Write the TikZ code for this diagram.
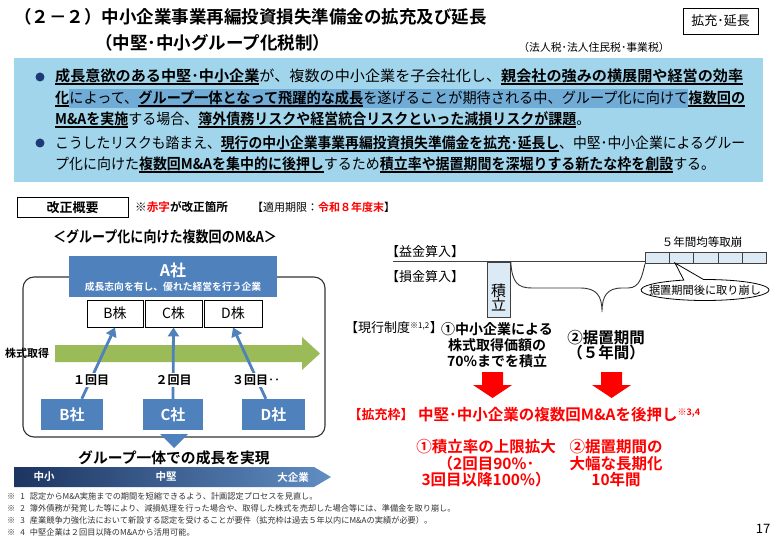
\documentclass[tikz,border=0pt]{standalone}
\usepackage{graphicx}
\usepackage{fontspec}
\setmainfont{Noto Sans CJK JP}[BoldFont={Noto Sans CJK JP Bold}]
\usetikzlibrary{shapes.geometric,shapes.callouts,arrows.meta}
\definecolor{boxblue}{RGB}{160,213,236}
\definecolor{hlblue}{RGB}{112,172,214}
\definecolor{accblue}{RGB}{79,129,189}
\definecolor{grn}{RGB}{155,187,89}
\definecolor{lblue}{RGB}{219,234,245}
\definecolor{navy}{RGB}{28,52,96}
\definecolor{bullc}{RGB}{31,56,120}
\definecolor{redc}{RGB}{255,0,0}
\definecolor{fnc}{RGB}{50,50,50}
\newcommand\fs[1]{\fontsize{#1}{#1}\selectfont}
\newcommand\fitw[2]{\resizebox{#1}{\height}{#2}}
\newsavebox\ubbox
\newcommand\ub[1]{\sbox\ubbox{\bfseries #1}\rlap{\rule[-2.6pt]{\wd\ubbox}{1.4pt}}\usebox\ubbox}
\newsavebox\hlbox
\newcommand\hl[1]{\sbox\hlbox{#1}\rlap{\color{hlblue}\rule[-4pt]{\wd\hlbox}{19pt}}\usebox\hlbox}
\begin{document}
\begin{tikzpicture}[x=1pt,y=-1pt,
  txt/.style={inner sep=0pt, anchor=base west},
  ctxt/.style={inner sep=0pt, anchor=center},
  stockbox/.style={draw=black, line width=0.9pt, minimum width=57pt, minimum height=27pt, inner sep=0pt, font=\fs{14}},
  cobox/.style={fill=accblue, text=white, minimum width=62pt, minimum height=31pt, inner sep=0pt, font=\fs{15}\bfseries},
  acq/.style={draw=accblue, line width=2.8pt, -{Triangle[width=11pt,length=9pt]}},
  roundlbl/.style={fill=white, inner sep=1.5pt, font=\fs{12}\bfseries},
  redarrow/.style={fill=redc},
  fn/.style={txt, font=\fs{8.2}, text=fnc},
  bul/.style={circle, fill=bullc, minimum size=9pt, inner sep=0pt}
]
\useasboundingbox[fill=white] (0,0) rectangle (776,537);

% title
\node[txt] (t1) at (14,24) {\fs{17.5}\bfseries （２－２）中小企業事業再編投資損失準備金の拡充及び延長};
\node[txt] (t2) at (95,50) {\fs{17.5}\bfseries （中堅･中小グループ化税制）};
\node[draw=black, line width=0.8pt, minimum width=75pt, minimum height=26pt, inner sep=0pt, font=\fs{13}] (tag) at (720.5,21) {拡充･延長};
\node[ctxt, font=\fs{10.8}] (tax) at (594,47) {（法人税･法人住民税･事業税）};

% blue summary box
\node[fill=boxblue, minimum width=749pt, minimum height=124pt, inner sep=0pt, anchor=north west] (sumbox) at (14,58) {};
\node[bul] (b1) at (40,77) {};
\node[bul] (b2) at (40,143) {};
\node[txt] (l1) at (55,82) {\fs{14.8}\fitw{688pt}{\ub{成長意欲のある中堅･中小企業}が、複数の中小企業を子会社化し、\ub{親会社の強みの横展開や経営の効率}}};
\node[txt] (l2) at (55,104) {\fs{14.8}\fitw{690pt}{\ub{化}\hl{によって、\ub{グループ一体となって飛躍的な成長}を遂げることが期待される中、グループ化に向けて}\ub{複数回の}}};
\node[txt] (l3) at (55,125) {\fs{14.8}\fitw{535pt}{\ub{M\&Aを実施}する場合、\ub{簿外債務リスクや経営統合リスクといった減損リスクが課題}。}};
\node[txt] (l4) at (55,149) {\fs{14.8}\fitw{690pt}{こうしたリスクも踏まえ、\ub{現行の中小企業事業再編投資損失準備金を拡充･延長し}、中堅･中小企業によるグルー}};
\node[txt] (l5) at (55,170) {\fs{14.8}\fitw{660pt}{プ化に向けた\ub{複数回M\&Aを集中的に後押し}するため\ub{積立率や据置期間を深堀りする新たな枠を創設}する。}};

% revision header
\node[draw=black, line width=0.8pt, minimum width=111pt, minimum height=20pt, inner sep=0pt, font=\fs{13}\bfseries] (kaisei) at (72.5,207.5) {改正概要};
\node[txt, font=\fs{11.6}\bfseries] (note) at (135,212) {※\textcolor{redc}{赤字}が改正箇所};
\node[txt, font=\fs{11}] (period) at (252,212) {【適用期限：\textcolor{redc}{\bfseries 令和８年度末}】};

% left diagram
\node[ctxt, font=\fs{15}\bfseries] (lhead) at (165,237) {\fitw{224pt}{＜グループ化に向けた複数回のM\&A＞}};
\draw[line width=1.1pt, rounded corners=11pt, draw=black!80] (23,277) rectangle (325,437);
\node[fill=accblue, minimum width=208pt, minimum height=41pt, inner sep=0pt, anchor=north west] (asha) at (69,256) {};
\node[ctxt, text=white, font=\fs{16}\bfseries] (aname) at (173,270) {A社};
\node[ctxt, text=white, font=\fs{9.8}\bfseries] (adesc) at (173,287) {成長志向を有し、優れた経営を行う企業};

\node[stockbox, minimum width=56pt] (bkabu) at (115,313.5) {B株};
\node[stockbox] (ckabu) at (173.5,313.5) {C株};
\node[stockbox, minimum width=58pt] (dkabu) at (233,313.5) {D株};

\node[txt, font=\fs{11}\bfseries] (kabu) at (5,357) {株式取得};
\fill[grn] (55,345) -- (302,345) -- (302,337) -- (320,353.5) -- (302,370) -- (302,362) -- (55,362) -- cycle;

\node[cobox] (bsha) at (72,414.5) {B社};
\node[cobox, minimum width=60pt] (csha) at (173,414.5) {C社};
\node[cobox, minimum width=63pt] (dsha) at (273.5,414.5) {D社};

\draw[acq] (bsha.58) -- (bkabu.south);
\draw[acq] (csha.north) -- (ckabu.south);
\draw[acq] (dsha.116) -- (dkabu.south);
\node[roundlbl] (r1) at (91,380) {１回目};
\node[roundlbl] (r2) at (173.5,380) {２回目};
\node[roundlbl] (r3) at (256,380) {３回目‥};

\fill[accblue] (160,434) -- (188,434) -- (174,448) -- cycle;
\node[ctxt, font=\fs{14.8}\bfseries] (grow) at (174,457.5) {グループ一体での成長を実現};
\shade[left color=navy, right color=accblue!90] (14,467) -- (314,467) -- (331,477) -- (314,487) -- (14,487) -- cycle;
\node[ctxt, text=white, font=\fs{10.5}\bfseries] (s1) at (44,477) {中小};
\node[ctxt, text=white, font=\fs{10.5}\bfseries] (s2) at (166,477) {中堅};
\node[ctxt, text=white, font=\fs{10.5}\bfseries] (s3) at (293,477) {大企業};

% footnotes
\node[fn] (f1) at (7,499) {※\hspace{5pt}1\hspace{5pt}認定からM\&A実施までの期間を短縮できるよう、計画認定プロセスを見直し。};
\node[fn] (f2) at (7,511) {※\hspace{5pt}2\hspace{5pt}簿外債務が発覚した等により、減損処理を行った場合や、取得した株式を売却した場合等には、準備金を取り崩し。};
\node[fn] (f3) at (7,523) {※\hspace{5pt}3\hspace{5pt}産業競争力強化法において新設する認定を受けることが要件（拡充枠は過去５年以内にM\&Aの実績が必要）。};
\node[fn] (f4) at (7,535) {※\hspace{5pt}4\hspace{5pt}中堅企業は２回目以降のM\&Aから活用可能。};
\node[ctxt, font=\fs{13}] (page) at (763,529) {17};

% right diagram
\node[ctxt, font=\fs{13}] (ekin) at (425,252) {【益金算入】};
\node[ctxt, font=\fs{13}] (sonkin) at (425,277) {【損金算入】};
\coordinate (lstart) at (393,262);
\coordinate (lend) at (645,262);
\draw[line width=1pt, draw=black!75] (lstart) -- (lend);
\foreach \i in {0,...,4} {
  \node[draw=black!75, fill=lblue, line width=0.8pt, minimum width=24.2pt, minimum height=11pt, inner sep=0pt, anchor=north west] (q\i) at (645+24.2*\i,252) {};
}
\node[ctxt, font=\fs{11.5}] (five) at (702,242) {５年間均等取崩};
\node[draw=black!75, fill=lblue, line width=0.8pt, minimum width=23pt, minimum height=55pt, inner sep=0pt, anchor=north west] (tsumi) at (487,262) {};
\node[ctxt, font=\fs{15}, align=center] (tsumit) at (498.5,297.5) {\fs{15}積\\[-1pt]立};
\draw[line width=0.9pt, draw=black!80] (tsumi.north east) .. controls (512,283) and (518,288) .. (532,288) -- (580,288) .. controls (597,288) and (602,296) .. (602,312)
  .. controls (602,296) and (607,288) .. (622,288) -- (628,288) .. controls (640,288) and (642,276) .. (q0.south west);
\coordinate (ptr) at (675,263);
\node[ellipse callout, draw=black, line width=0.8pt, fill=white, minimum width=128pt, minimum height=21pt, inner sep=0pt, callout absolute pointer=(ptr), callout pointer arc=18] (co) at (705,290) {};
\node[ctxt, font=\fs{11.2}] (cotext) at (co.center) {据置期間後に取り崩し};

\node[ctxt, font=\fs{13}] (genko) at (394,328) {【現行制度\textsuperscript{\fs{8}※1,2}】};
\node[ctxt, font=\fs{14}\bfseries, align=center] (p1) at (497,345) {①中小企業による\\[2pt]株式取得価額の\\[2pt]70\%までを積立};
\node[ctxt, font=\fs{15.5}\bfseries, align=center] (p2) at (606,345) {②据置期間\\[-1pt]（５年間）};

\fill[redarrow] (482,372) -- (503,372) -- (503,385) -- (512,385) -- (492.5,398) -- (473,385) -- (482,385) -- cycle;
\fill[redarrow] (601,372) -- (622,372) -- (622,385) -- (631,385) -- (611.5,398) -- (592,385) -- (601,385) -- cycle;

\node[ctxt, text=redc, font=\fs{13}\bfseries] (kakuju) at (381,415) {【拡充枠】};
\node[txt, text=redc, font=\fs{15.5}\bfseries] (kakut) at (418,420.5) {中堅･中小企業の複数回M\&Aを後押し\textsuperscript{\fs{9}※3,4}};
\node[ctxt, text=redc, font=\fs{15.5}\bfseries, align=center] (n1) at (486,463.5) {①積立率の上限拡大\\[1pt]（2回目90\%･\\[1pt]3回目以降100\%）};
\node[ctxt, text=redc, font=\fs{15.5}\bfseries, align=center] (n2) at (616,463.5) {②据置期間の\\[1pt]大幅な長期化\\[1pt]10年間};
\end{tikzpicture}
\end{document}
